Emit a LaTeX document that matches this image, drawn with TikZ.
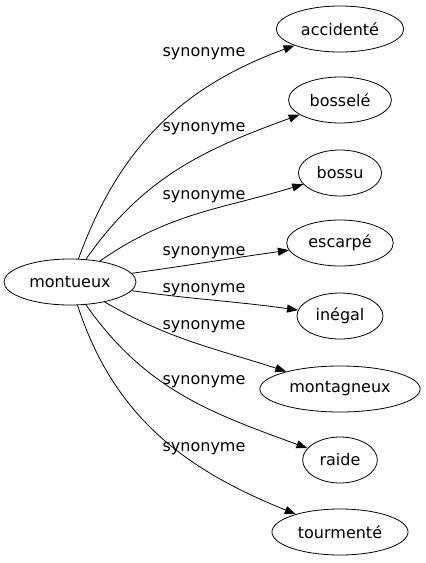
\documentclass[tikz,border=0pt]{standalone}
\usepackage{fontspec}
\setmainfont{DejaVu Sans}
\usetikzlibrary{shapes.geometric,arrows.meta}

\begin{document}
\begin{tikzpicture}[x=1bp,y=-1bp,font=\fontsize{16bp}{19bp}\selectfont,line width=0.8bp]

      \useasboundingbox (0,0) rectangle (425,563);

      \begin{scope}[every node/.style={ellipse,draw,inner xsep=6bp,inner ysep=0pt,minimum height=46bp}]
        \node (montueux)    at (70,282)  {montueux};
        \node (accidente)   at (340,29)  {accidenté};
        \node (bossele)     at (340,100) {bosselé};
        \node (bossu)       at (340,173) {bossu};
        \node (escarpe)     at (340,243) {escarpé};
        \node (inegal)      at (340,316) {inégal};
        \node (montagneux)  at (340,389) {montagneux};
        \node (raide)       at (340,460) {raide};
        \node (tourmente)   at (340,532) {tourmenté};
      \end{scope}

      \begin{scope}[every node/.style={anchor=base}]
        \node (l1) at (204,57)  {synonyme};
        \node (l2) at (204,132) {synonyme};
        \node (l3) at (204,199) {synonyme};
        \node (l4) at (204,255) {synonyme};
        \node (l5) at (204,292) {synonyme};
        \node (l6) at (204,329) {synonyme};
        \node (l7) at (204,384) {synonyme};
        \node (l8) at (204,451) {synonyme};
      \end{scope}

      \begin{scope}[every edge/.style={draw,-{Triangle[length=11bp,width=8bp]}}]
        \path (montueux) edge[out=70,in=200]  (accidente);
        \path (montueux) edge[out=55,in=200]  (bossele);
        \path (montueux) edge[out=35,in=197]  (bossu);
        \path (montueux) edge[out=8,in=188]   (escarpe);
        \path (montueux) edge[out=-8,in=172]  (inegal);
        \path (montueux) edge[out=-30,in=162] (montagneux);
        \path (montueux) edge[out=-55,in=160] (raide);
        \path (montueux) edge[out=-72,in=158] (tourmente);
      \end{scope}

    \end{tikzpicture}
\end{document}
